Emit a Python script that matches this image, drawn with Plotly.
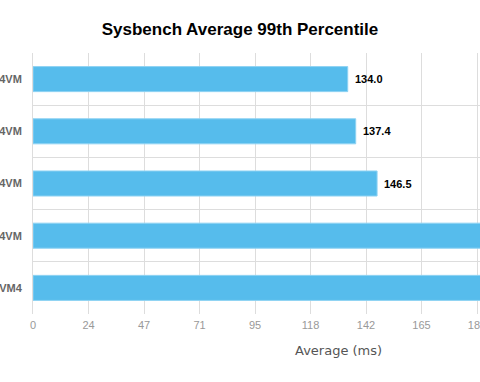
import plotly.graph_objects as go

categories = ["MySQL 4VM", "MariaDB 4VM", "Percona 4VM", "Postgres 4VM", "Sysbench VM4"]
values = [134.0, 137.4, 146.5, 205.0, 212.0]
tick_step = 23.63
tick_vals = [i * tick_step for i in range(11)]
tick_text = ["0", "24", "47", "71", "95", "118", "142", "165", "189", "213", "236"]

ypos = list(range(len(categories)))

fig = go.Figure()
fig.add_trace(go.Bar(
    x=values, y=ypos, orientation="h",
    width=0.48,
    marker=dict(color="#56bcec", line=dict(color="#8fd3f3", width=1)),
    hoverinfo="skip",
))

for v, y in zip(values, ypos):
    fig.add_annotation(x=v, y=y, xref="x", yref="y", text=f"<b>{v:.1f}</b>",
                       showarrow=False, xanchor="left", xshift=5,
                       font=dict(family="Liberation Sans, Arial", size=11, color="#000000"))

fig.add_annotation(xref="x domain", yref="y domain",
                   x=(338 - 33) / 447, y=-(350 - 314) / 261,
                   xanchor="center", yanchor="middle", text="Average (ms)",
                   showarrow=False,
                   font=dict(family="DejaVu Sans", size=13, color="#555555"))

fig.update_layout(
    width=480, height=382,
    margin=dict(l=33, r=0, t=53, b=68, autoexpand=False),
    paper_bgcolor="white", plot_bgcolor="white",
    showlegend=False,
    title=dict(text="<b>Sysbench Average 99th Percentile</b>", x=0.5, xanchor="center",
               y=1 - 29 / 382, yanchor="middle",
               font=dict(family="Liberation Sans, Arial", size=17, color="#000000")),
    xaxis=dict(range=[0, 447 / 2.3487], tickvals=tick_vals, ticktext=tick_text,
               showgrid=True, gridcolor="#dddddd", gridwidth=1, zeroline=False,
               showline=False, ticks="outside", ticklen=1, tickcolor="rgba(0,0,0,0)",
               ticklabeloverflow="allow",
               tickfont=dict(family="Liberation Sans, Arial", size=11, color="#999999"),
               automargin=False, fixedrange=True),
    yaxis=dict(range=[4.5, -0.5], tickvals=ypos, ticktext=categories,
               showgrid=False, zeroline=False,
               showline=True, linecolor="#dddddd", mirror=False,
               ticks="outside", ticklen=8, tickcolor="rgba(0,0,0,0)",
               ticklabeloverflow="allow",
               tickfont=dict(family="Liberation Sans, Arial", size=11, color="#666666",
                             weight="bold"),
               minor=dict(tick0=-0.5, dtick=1, showgrid=True, gridcolor="#dddddd", ticks=""),
               automargin=False, fixedrange=True),
)

fig.write_html("out.html", config={"displayModeBar": False},
               post_script="document.body.style.margin='0';document.body.style.overflow='hidden';")
